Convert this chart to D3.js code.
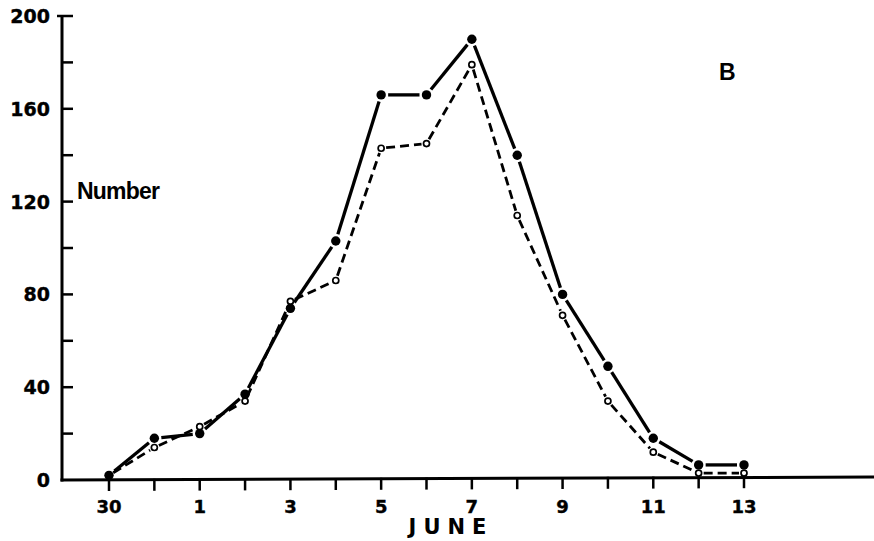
<!DOCTYPE html>
<html><head><meta charset="utf-8">
<script src="https://cdn.jsdelivr.net/npm/d3@7"></script>
<style>html,body{margin:0;padding:0;background:#fff;}svg{display:block;}</style>
</head><body>
<svg id="chart" width="874" height="541"></svg>
<script>
// Days (index positions along the axis): May 30, 31, June 1 ... 13
const days = ["30","31","1","2","3","4","5","6","7","8","9","10","11","12","13"];
const xTickLabels = ["30","1","3","5","7","9","11","13"];
const solidValues  = [2, 18, 20, 37, 74, 103, 166, 166, 190, 140, 80, 49, 18, 6.5, 6.5];
const hollowValues = [2, 14, 23, 34, 77, 86, 143, 145, 179, 114, 71, 34, 12, 3, 3];
const yTicks = [0,20,40,60,80,100,120,140,160,180,200];
const yTickLabels = [0,40,80,120,160,200];

const svg = d3.select("#chart");
const x0 = 62, y0 = 480;
const x = d3.scaleLinear().domain([0, days.length - 1]).range([109, 744]);
const y = d3.scaleLinear().domain([0, 200]).range([y0, 16]);
const ink = "#000";

// Axes lines
svg.append("line").attr("x1", x0).attr("x2", x0).attr("y1", y(200)-1).attr("y2", y0+1.5)
  .attr("stroke", ink).attr("stroke-width", 3);
svg.append("line").attr("x1", x0-1.5).attr("x2", 874).attr("y1", y0).attr("y2", y0-3)
  .attr("stroke", ink).attr("stroke-width", 3);

// Y ticks (inward)
svg.selectAll(".yt").data(yTicks.filter(d => d > 0)).join("line")
  .attr("x1", d => d === 200 ? x0 - 5 : x0).attr("x2", x0 + 11)
  .attr("y1", d => y(d)).attr("y2", d => y(d))
  .attr("stroke", ink).attr("stroke-width", 2.5);
svg.selectAll(".yl").data(yTickLabels).join("text")
  .attr("x", 50).attr("y", d => y(d) + 7)
  .attr("text-anchor", "end")
  .attr("font-family", "DejaVu Sans").attr("font-weight", "bold").attr("font-size", 19)
  .attr("stroke", ink).attr("stroke-width", 0.4)
  .text(d => d);

// X ticks (downward)
const tickIdx = d3.range(days.length);
svg.selectAll(".xt").data(tickIdx).join("line")
  .attr("x1", d => x(d)).attr("x2", d => x(d))
  .attr("y1", d => y0 - 1 - d * 3 / days.length).attr("y2", d => y0 + 11 - d * 3 / days.length)
  .attr("stroke", ink).attr("stroke-width", 2.5);
svg.selectAll(".xl").data(xTickLabels).join("text")
  .attr("x", d => x(days.indexOf(d))).attr("y", 513)
  .attr("text-anchor", "middle")
  .attr("font-family", "DejaVu Sans").attr("font-weight", "bold").attr("font-size", 18)
  .attr("stroke", ink).attr("stroke-width", 0.4)
  .text(d => d);

// Labels
svg.append("text").attr("x", 451).attr("y", 534).attr("text-anchor", "middle")
  .attr("font-family", "DejaVu Sans").attr("font-weight", "bold").attr("font-size", 21)
  .attr("letter-spacing", 7).text("JUNE");
svg.append("text").attr("x", 77).attr("y", 199)
  .attr("font-family", "Liberation Sans").attr("font-weight", "bold").attr("font-size", 23)
  .attr("letter-spacing", -0.8).text("Number");
svg.append("text").attr("x", 719).attr("y", 80)
  .attr("font-family", "Liberation Sans").attr("font-weight", "bold").attr("font-size", 23)
  .text("B");

// Series drawn as segments that stop short of the markers
function drawSeries(vals, opts) {
  const pts = vals.map((v, i) => [x(i), y(v)]);
  const segs = d3.pairs(pts).map(([a, b]) => {
    const dx = b[0] - a[0], dy = b[1] - a[1], L = Math.hypot(dx, dy);
    const g = Math.min(opts.gap, L / 2 - 1);
    return [a[0] + dx / L * g, a[1] + dy / L * g, b[0] - dx / L * g, b[1] - dy / L * g];
  });
  svg.append("g").selectAll("line").data(segs).join("line")
    .attr("x1", d => d[0]).attr("y1", d => d[1]).attr("x2", d => d[2]).attr("y2", d => d[3])
    .attr("stroke", ink).attr("stroke-width", opts.width)
    .attr("stroke-dasharray", opts.dash || null)
    .attr("stroke-linecap", "butt");
  svg.append("g").selectAll("circle").data(pts).join("circle")
    .attr("cx", d => d[0]).attr("cy", d => d[1]).attr("r", opts.r)
    .attr("fill", opts.filled ? ink : "#fff")
    .attr("stroke", ink).attr("stroke-width", opts.filled ? 0 : 1.7);
}
drawSeries(hollowValues, {gap: 5, width: 2.8, dash: "9,5", r: 3, filled: false});
drawSeries(solidValues, {gap: 7, width: 3.3, r: 4.7, filled: true});
</script>
</body></html>
